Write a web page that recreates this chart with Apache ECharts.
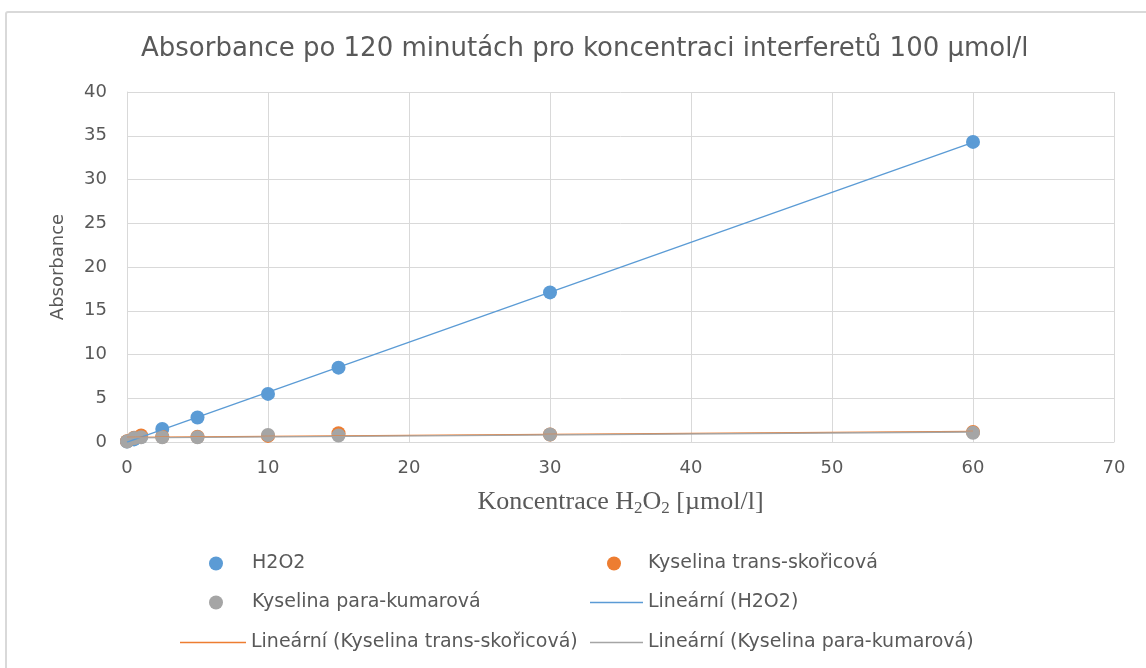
<!DOCTYPE html>
<html>
<head>
<meta charset="utf-8">
<script src="https://cdn.jsdelivr.net/npm/echarts@6/dist/echarts.min.js"></script>
<style>
  html, body { margin: 0; padding: 0; background: #fff; }
  #frame { position: absolute; left: 5px; top: 11px; width: 1160px; height: 680px;
           border: 2px solid #d9d9d9; border-radius: 3px; box-sizing: border-box; }
  #chart { position: absolute; left: 0; top: 0; width: 1146px; height: 668px; }
</style>
</head>
<body>
<div id="frame"></div>
<div id="chart"></div>
<script>
// Concentration of H2O2 [µmol/l]
const concentrations = [0, 0.5, 1, 2.5, 5, 10, 15, 30, 60];
// Absorbance after 120 minutes
const absH2O2       = [0.05, 0.3, 0.6, 1.5, 2.8, 5.5, 8.5, 17.1, 34.3];
const absSkoricova  = [0.1, 0.5, 0.75, 0.6, 0.6, 0.7, 1.0, 0.85, 1.15];
const absKumarova   = [0.05, 0.45, 0.55, 0.55, 0.55, 0.8, 0.75, 0.85, 1.05];

const xTicks = [0, 10, 20, 30, 40, 50, 60, 70];
const yTicks = [0, 5, 10, 15, 20, 25, 30, 35, 40];

const seriesNames = ['H2O2', 'Kyselina trans-skořicová', 'Kyselina para-kumarová'];
const trendNames = ['Lineární (H2O2)', 'Lineární (Kyselina trans-skořicová)', 'Lineární (Kyselina para-kumarová)'];
const colors = ['#5b9bd5', '#ed7d31', '#a5a5a5'];

function pairs(ys) { return concentrations.map((x, i) => [x, ys[i]]); }

// least-squares linear trend over the measured points
function trend(ys) {
  const n = concentrations.length;
  const mx = concentrations.reduce((a, b) => a + b, 0) / n;
  const my = ys.reduce((a, b) => a + b, 0) / n;
  let sxy = 0, sxx = 0;
  concentrations.forEach((x, i) => { sxy += (x - mx) * (ys[i] - my); sxx += (x - mx) * (x - mx); });
  const k = sxy / sxx, q = my - k * mx;
  const x0 = concentrations[0], x1 = concentrations[n - 1];
  return [[x0, q + k * x0], [x1, q + k * x1]];
}

const sets = [absH2O2, absSkoricova, absKumarova];
const textColor = '#595959';
const sans = '"DejaVu Sans", "Open Sans", sans-serif';
const serif = '"Liberation Serif", "Times New Roman", serif';

const series = [];
sets.forEach((ys, i) => {
  series.push({
    name: seriesNames[i], type: 'scatter', data: pairs(ys),
    symbol: 'circle', symbolSize: 14, z: 2 + i,
    itemStyle: { color: colors[i], opacity: 1 }
  });
});
sets.forEach((ys, i) => {
  series.push({
    name: trendNames[i], type: 'line', data: trend(ys),
    symbol: 'none', z: 10, silent: true,
    itemStyle: { color: colors[i] },
    lineStyle: { color: colors[i], width: 1.3 }
  });
});

function legendItem(name, left, centerY, icon, w, h, textGap) {
  return { data: [name], left: left, top: centerY - 11, padding: 0, icon: icon,
           itemWidth: w, itemHeight: h, itemGap: 0,
           textStyle: { color: textColor, fontSize: 19, fontFamily: sans, padding: [0, 0, 0, textGap] } };
}

const chart = echarts.init(document.getElementById('chart'));
chart.setOption({
  animation: false,
  title: {
    text: 'Absorbance po 120 minutách pro koncentraci interferetů 100 µmol/l',
    left: 136, top: 31,
    textStyle: { color: textColor, fontSize: 26, fontWeight: 'normal', fontFamily: sans }
  },
  grid: { left: 127, right: 32, top: 92, bottom: 226 },
  xAxis: {
    type: 'value', min: xTicks[0], max: xTicks[xTicks.length - 1], interval: 10,
    name: '{n|Koncentrace H}{s|2}{n|O}{s|2}{n| [µmol/l]}',
    nameLocation: 'middle', nameGap: 46,
    nameTextStyle: { rich: {
      n: { fontFamily: serif, fontSize: 26, color: textColor },
      s: { fontFamily: serif, fontSize: 17, color: textColor, verticalAlign: 'bottom', padding: [12, 0, 0, 0] }
    } },
    axisLine: { lineStyle: { color: '#d9d9d9', width: 1 } },
    axisTick: { show: false },
    axisLabel: { color: textColor, fontSize: 18, fontFamily: sans, margin: 17 },
    splitLine: { show: true, lineStyle: { color: '#d9d9d9', width: 1 } }
  },
  yAxis: {
    type: 'value', min: yTicks[0], max: yTicks[yTicks.length - 1], interval: 5,
    name: 'Absorbance', nameLocation: 'middle', nameGap: 60,
    nameTextStyle: { color: textColor, fontSize: 18, fontFamily: sans },
    axisLine: { show: true, lineStyle: { color: '#d9d9d9', width: 1 } },
    axisTick: { show: false },
    axisLabel: { color: textColor, fontSize: 18, fontFamily: sans, margin: 20 },
    splitLine: { show: true, lineStyle: { color: '#d9d9d9', width: 1 } }
  },
  legend: [
    legendItem(seriesNames[0], 209, 565, 'circle', 14, 14, 24),
    legendItem(seriesNames[1], 607, 565, 'circle', 14, 14, 22),
    legendItem(seriesNames[2], 209, 604, 'circle', 14, 14, 24),
    legendItem(trendNames[0], 590, 604, 'rect', 53, 1.3, 0),
    legendItem(trendNames[1], 180, 644, 'rect', 66, 1.3, 0),
    legendItem(trendNames[2], 590, 644, 'rect', 53, 1.3, 0)
  ],
  series: series
});
</script>
</body>
</html>
